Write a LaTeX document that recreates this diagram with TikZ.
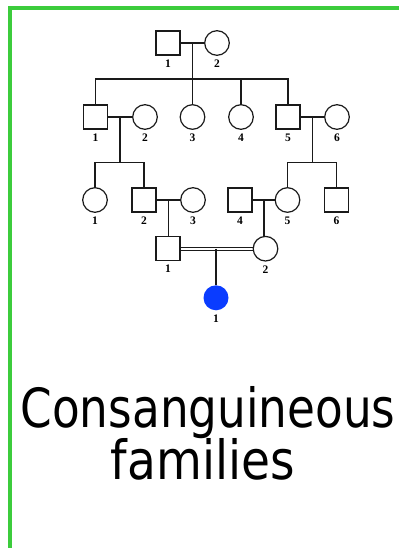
\documentclass[tikz,border=0pt]{standalone}
\usepackage{graphicx}
\usepackage{fontspec}
\setmainfont{Liberation Serif}
\newfontfamily\titlefont{DejaVu Sans}
\definecolor{bordergreen}{HTML}{3CCC3C}
\definecolor{affblue}{HTML}{0A3CFF}
\definecolor{pedline}{HTML}{1A1A1A}
\begin{document}
\begin{tikzpicture}[x=1pt,y=-1pt,
  male/.style={draw=pedline,line width=1.2pt,minimum size=24pt,inner sep=0pt,rectangle,fill=white},
  female/.style={draw=pedline,line width=1.2pt,minimum size=24.6pt,inner sep=0pt,circle,fill=white},
  affected/.style={circle,fill=affblue,minimum size=25pt,inner sep=0pt},
  lbl/.style={font=\bfseries\fontsize{11.5}{11.5}\selectfont,inner sep=0pt},
  rel/.style={draw=pedline,line width=1.2pt},
  titletext/.style={font=\titlefont\fontsize{54}{54}\selectfont,inner sep=0pt,anchor=base}]
\useasboundingbox (0,0) rectangle (399,548);
\fill[white] (0,0) rectangle (399,548);
% border
\draw[bordergreen,line width=3.6pt] (10,548) -- (10,8) -- (399,8);
% generation I
\node[male] (i1) at (168,43) {};
\node[female] (i2) at (217,43) {};
% generation II
\node[male] (ii1) at (95.5,117) {};
\node[female] (ii2) at (145,117) {};
\node[female] (ii3) at (192.5,117) {};
\node[female] (ii4) at (241,117) {};
\node[male] (ii5) at (288,117) {};
\node[female] (ii6) at (337,117) {};
% generation III
\node[female] (iii1) at (95,200) {};
\node[male] (iii2) at (144,200) {};
\node[female] (iii3) at (193,200) {};
\node[male] (iii4) at (240,200) {};
\node[female] (iii5) at (287.5,200) {};
\node[male] (iii6) at (336.5,200) {};
% generation IV
\node[male] (iv1) at (168,248.7) {};
\node[female] (iv2) at (265.5,248.7) {};
% generation V
\node[affected] (v1) at (216,297.8) {};
% coordinates
\coordinate (m1) at (192.5,43);
\coordinate (s1) at (192.5,79);
\coordinate (m2) at (120,117);
\coordinate (s2) at (120,162.7);
\coordinate (m3) at (312.5,117);
\coordinate (s3) at (312.5,162.7);
\coordinate (m4) at (168.5,200);
\coordinate (m5) at (264,200);
\coordinate (m6) at (216,248.7);
% lines gen I
\draw[rel] (i1.east) -- (i2.west);
\draw[rel] (m1) -- (s1);
\draw[rel] (ii1.north) |- (ii5.north |- s1) -- (ii5.north);
\draw[rel] (ii3.north) -- (ii3.north |- s1);
\draw[rel] (ii4.north) -- (ii4.north |- s1);
% lines gen II
\draw[rel] (ii1.east) -- (ii2.west);
\draw[rel] (m2) -- (s2);
\draw[rel] (iii1.north) |- (iii2.north |- s2) -- (iii2.north);
\draw[rel] (ii5.east) -- (ii6.west);
\draw[rel] (m3) -- (s3);
\draw[rel] (iii5.north) |- (iii6.north |- s3) -- (iii6.north);
% lines gen III
\draw[rel] (iii2.east) -- (iii3.west);
\draw[rel] (m4) -- (m4 |- iv1.north);
\draw[rel] (iii4.east) -- (iii5.west);
\draw[rel] (m5) -- (m5 |- iv2.north);
% consanguineous double line
\draw[rel,line width=1pt] ([yshift=-1.5pt]iv1.east) -- ([yshift=-1.5pt]iv2.west);
\draw[rel,line width=1pt] ([yshift=1.5pt]iv1.east) -- ([yshift=1.5pt]iv2.west);
\draw[rel] (m6) -- (v1.north);
% labels
\foreach \n/\t in {i1/1,i2/2,ii1/1,ii2/2,ii3/3,ii4/4,ii5/5,ii6/6,iii1/1,iii2/2,iii3/3,iii4/4,iii5/5,iii6/6,iv1/1,iv2/2,v1/1}
  \node[lbl] (l\n) at ([yshift=-20.5pt]\n.center) {\t};
% title
\node[titletext] (t1) at (208,427) {\resizebox{375pt}{\height}{Consanguineous}};
\node[titletext] (t2) at (203,479) {\resizebox{184pt}{\height}{families}};
\end{tikzpicture}
\end{document}
